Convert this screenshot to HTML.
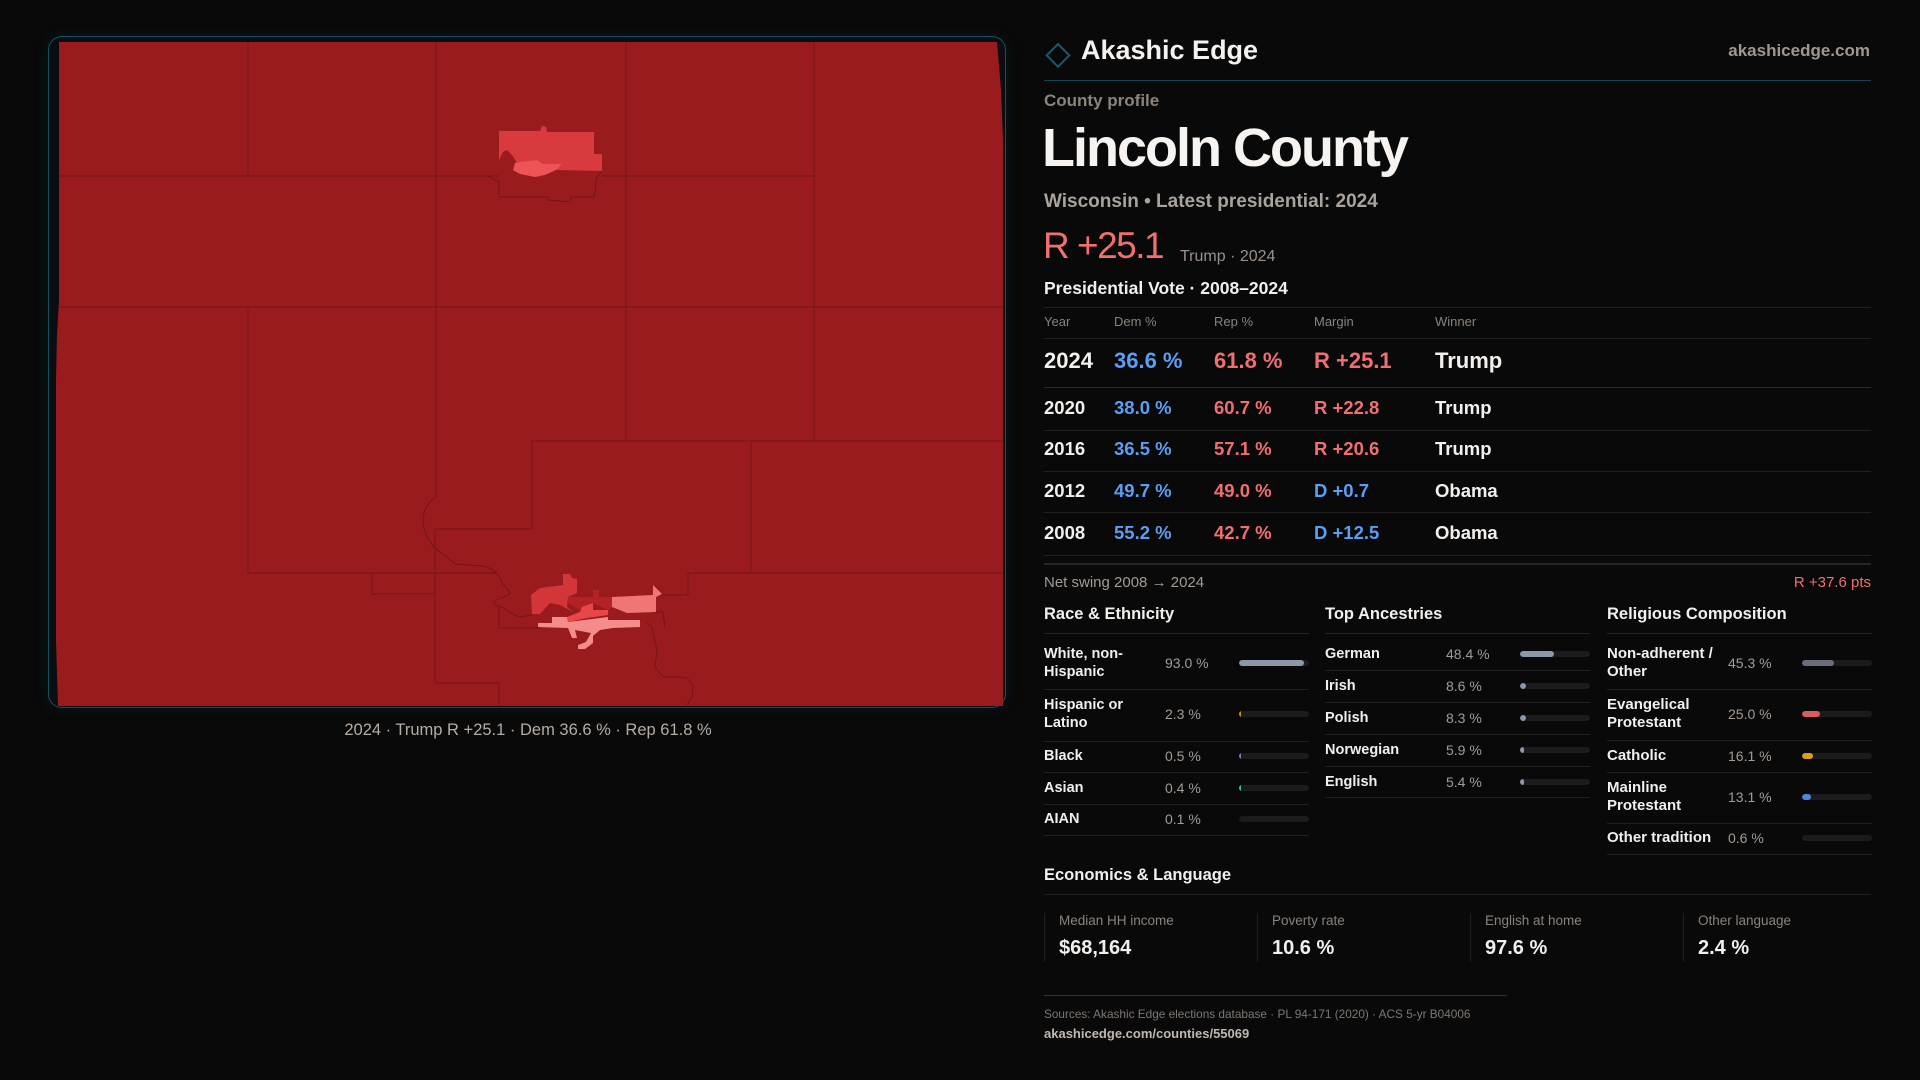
<!DOCTYPE html>
<html><head><meta charset="utf-8">
<style>
*{margin:0;padding:0;box-sizing:border-box}
html,body{width:1920px;height:1080px;overflow:hidden;background:#09090a}
body{position:relative;font-family:"Liberation Sans",sans-serif;color:#f2efec}
.a{position:absolute;white-space:nowrap}
.hl{position:absolute;height:1px;background:#202020}
.th{position:absolute;font-size:13px;line-height:16px;color:#8a827b}
.r{position:absolute;font-size:18.5px;line-height:24px;font-weight:bold}
.blue{color:#5b9ef2}.red{color:#f06f70}
.sh{position:absolute;font-size:16.5px;line-height:20px;font-weight:bold;color:#f2efec}
.lb{position:absolute;font-size:14.5px;line-height:18px;font-weight:bold;color:#f2efec;white-space:nowrap}
.vl{position:absolute;font-size:14px;line-height:18px;color:#a39b94;white-space:nowrap}
.tr{position:absolute;width:70px;height:6px;border-radius:3px;background:#1b1b1d;overflow:hidden}
.fl{position:absolute;left:0;top:0;height:6px;border-radius:3px}
.cl{position:absolute;font-size:13.5px;line-height:16px;color:#8a827b;white-space:nowrap}
.cv{position:absolute;font-size:20px;line-height:24px;font-weight:bold;color:#f2efec;white-space:nowrap}
.cb{position:absolute;width:1px;height:49px;top:913px;background:#1f1f1f}
</style></head><body>

<!-- Map panel -->
<div class="a" style="left:48px;top:36px;width:958px;height:672px;border:1px solid #17505c;border-radius:14px;background:#0a0e12;box-shadow:0 0 14px rgba(20,90,100,0.18)"></div>
<svg class="a" style="left:0;top:0" width="1030" height="760" viewBox="0 0 1030 760">
<path d="M59,42 L997,42 L1001,90 L1003,140 L1003,706 L58,706 L56,640 L56,380 L57,335 L59,300 Z" fill="#991b1e"/>
<g stroke="#731416" stroke-width="0.9" fill="none">
<path d="M248,42V176 M248,307V573 M436,42V497 M626,42V441 M814,42V441 M59,176H499 M602,176H814 M59,307H1003 M532,441H1003 M532,441V529 M435,529H532 M751,441V573 M248,573H497 M372,573V594 M372,594H435 M435,529V683 M435,683H499 M499,683V706 M499,606V628 M499,628H540 M656,595H688 M688,573V595 M688,573H1003"/>
<path d="M436,497 C430,500 423,510 423,520 C423,532 430,545 440,552 C446,556 450,560 455,564 L483,566 C492,568 498,573 501,580 C503,586 509,589 510,593 C508,597 500,597 495,601 C492,604 496,606 502,607 C507,610 512,615 520,617 L532,615"/>
<path d="M647,623 L652,627 L653,633 L657,650 L655,667 L663,677 L677,677 L687,678 L693,685 L692,697 L687,705"/>
<path d="M488,176 L499,182 L499,197 L548,197 L548,200 L570,202 L571,197 L594,197 L597,177 L602,171"/>
<path d="M653,612 L663,612 L665,628"/>
</g>
<!-- northern city -->
<path d="M499,131 L540,131 L542,126 L546,127 L547,132 L594,132 L594,154 L602,154 L602,171 L556,170 L562,164 L543,164 L537,160 L520,163 L517,163 L512,155 L507,150 L503,152 L499,160 Z" fill="#d93a3d"/>
<path d="M515,163 L520,162 L537,160 L543,164 L562,164 L556,170 L545,175 L535,177 L520,174 L513,170 Z" fill="#ee5457"/>
<!-- southern city -->
<path d="M531,595 L540,588 L563,585 L563,574 L570,574 L572,578 L577,579 L577,593 L568,597 L567,607 L573,612 L560,605 L550,603 L540,614 L532,614 Z" fill="#d23638"/>
<path d="M568,597 L593,597 L593,590 L599,590 L599,597 L617,597 L613,607 L608,610 L593,603 L580,610 L575,607 L568,603 Z" fill="#b52226"/>
<path d="M612,597 L653,595 L653,585 L662,594 L656,597 L656,612 L627,613 L612,607 Z" fill="#f07575"/>
<path d="M567,617 L580,612 L582,607 L593,603 L593,610 L608,610 L608,615 L587,618 L568,622 Z" fill="#e8474a"/>
<path d="M538,623 L552,623 L552,617 L567,617 L568,622 L608,617 L608,620 L640,620 L640,627 L613,628 L600,630 L593,636 L593,643 L585,649 L578,649 L578,645 L586,642 L591,633 L575,630 L577,638 L572,638 L568,628 L538,627 Z" fill="#f58c8c"/>
</svg>
<div class="a" style="left:228px;width:600px;top:720px;font-size:16.5px;line-height:21px;text-align:center;color:#b5aca4">2024 · Trump R +25.1 · Dem 36.6 % · Rep 61.8 %</div>

<!-- Header -->
<svg class="a" style="left:1040px;top:36px" width="36" height="36" viewBox="0 0 36 36"><rect x="11" y="11" width="16" height="16" transform="rotate(45 18 18)" fill="none" stroke="#1c5866" stroke-width="2"/></svg>
<div class="a" style="left:1081px;top:34px;font-size:27px;line-height:32px;font-weight:bold;color:#f4f1ee">Akashic Edge</div>
<div class="a" style="right:50px;top:40px;font-size:17px;line-height:22px;font-weight:bold;color:#a09890">akashicedge.com</div>
<div class="a" style="left:1044px;top:80px;width:827px;height:1px;background:#164651"></div>

<div class="a" style="left:1044px;top:91px;font-size:17px;line-height:20px;font-weight:bold;color:#8c837b">County profile</div>
<div class="a" style="left:1042px;top:116px;font-size:54px;line-height:64px;font-weight:bold;letter-spacing:-2px;color:#f6f3f0">Lincoln County</div>
<div class="a" style="left:1044px;top:190px;font-size:19px;line-height:23px;font-weight:bold;color:#aaa39c">Wisconsin • Latest presidential: 2024</div>
<div class="a" style="left:1043px;top:224px;font-size:37px;line-height:44px;letter-spacing:-1.5px;color:#f26f70">R +25.1</div>
<div class="a" style="left:1180px;top:247px;font-size:16px;line-height:20px;color:#9a918a">Trump · 2024</div>
<div class="a" style="left:1044px;top:277px;font-size:17.5px;line-height:22px;font-weight:bold;color:#f2efec">Presidential Vote · 2008–2024</div>

<!-- Table -->
<div class="hl" style="left:1044px;top:307px;width:827px;background:#1e1e1e"></div>
<div class="th" style="left:1044px;top:314px">Year</div>
<div class="th" style="left:1114px;top:314px">Dem %</div>
<div class="th" style="left:1214px;top:314px">Rep %</div>
<div class="th" style="left:1314px;top:314px">Margin</div>
<div class="th" style="left:1435px;top:314px">Winner</div>
<div class="hl" style="left:1044px;top:338px;width:827px"></div>

<div class="r" style="left:1044px;top:347px;font-size:22px;line-height:28px">2024</div>
<div class="r blue" style="left:1114px;top:347px;font-size:22px;line-height:28px">36.6 %</div>
<div class="r red" style="left:1214px;top:347px;font-size:22px;line-height:28px">61.8 %</div>
<div class="r red" style="left:1314px;top:347px;font-size:22px;line-height:28px">R +25.1</div>
<div class="r" style="left:1435px;top:347px;font-size:22px;line-height:28px">Trump</div>
<div class="hl" style="left:1044px;top:387px;width:827px;background:#2a2a2a"></div>

<div class="r" style="left:1044px;top:396px">2020</div>
<div class="r blue" style="left:1114px;top:396px">38.0 %</div>
<div class="r red" style="left:1214px;top:396px">60.7 %</div>
<div class="r red" style="left:1314px;top:396px">R +22.8</div>
<div class="r" style="left:1435px;top:396px">Trump</div>
<div class="hl" style="left:1044px;top:430px;width:827px"></div>

<div class="r" style="left:1044px;top:437px">2016</div>
<div class="r blue" style="left:1114px;top:437px">36.5 %</div>
<div class="r red" style="left:1214px;top:437px">57.1 %</div>
<div class="r red" style="left:1314px;top:437px">R +20.6</div>
<div class="r" style="left:1435px;top:437px">Trump</div>
<div class="hl" style="left:1044px;top:471px;width:827px"></div>

<div class="r" style="left:1044px;top:479px">2012</div>
<div class="r blue" style="left:1114px;top:479px">49.7 %</div>
<div class="r red" style="left:1214px;top:479px">49.0 %</div>
<div class="r blue" style="left:1314px;top:479px">D +0.7</div>
<div class="r" style="left:1435px;top:479px">Obama</div>
<div class="hl" style="left:1044px;top:512px;width:827px"></div>

<div class="r" style="left:1044px;top:521px">2008</div>
<div class="r blue" style="left:1114px;top:521px">55.2 %</div>
<div class="r red" style="left:1214px;top:521px">42.7 %</div>
<div class="r blue" style="left:1314px;top:521px">D +12.5</div>
<div class="r" style="left:1435px;top:521px">Obama</div>
<div class="hl" style="left:1044px;top:555px;width:827px"></div>
<div class="hl" style="left:1044px;top:563px;width:827px;height:2px;background:#262626"></div>

<div class="a" style="left:1044px;top:573px;font-size:15px;line-height:20px;color:#a39b94">Net swing 2008 → 2024</div>
<div class="a" style="right:49px;top:573px;font-size:15px;line-height:20px;color:#f06f70">R +37.6 pts</div>

<!-- Race & Ethnicity -->
<div class="sh" style="left:1044px;top:604px">Race &amp; Ethnicity</div>
<div class="hl" style="left:1044px;top:633px;width:265px;background:#242424"></div>

<div class="lb" style="left:1044px;top:645px">White, non-<br>Hispanic</div>
<div class="vl" style="left:1165px;top:654px">93.0 %</div>
<div class="tr" style="left:1239px;top:660px"><div class="fl" style="width:65px;background:#8c97aa"></div></div>
<div class="hl" style="left:1044px;top:689px;width:265px"></div>

<div class="lb" style="left:1044px;top:696px">Hispanic or<br>Latino</div>
<div class="vl" style="left:1165px;top:705px">2.3 %</div>
<div class="tr" style="left:1239px;top:711px"><div class="fl" style="width:2px;border-radius:0;background:#d98a16"></div></div>
<div class="hl" style="left:1044px;top:741px;width:265px"></div>

<div class="lb" style="left:1044px;top:747px">Black</div>
<div class="vl" style="left:1165px;top:747px">0.5 %</div>
<div class="tr" style="left:1239px;top:753px"><div class="fl" style="width:1.5px;border-radius:0;background:#8e6fd8"></div></div>
<div class="hl" style="left:1044px;top:772px;width:265px"></div>

<div class="lb" style="left:1044px;top:779px">Asian</div>
<div class="vl" style="left:1165px;top:779px">0.4 %</div>
<div class="tr" style="left:1239px;top:785px"><div class="fl" style="width:1.5px;border-radius:0;background:#2fc29a"></div></div>
<div class="hl" style="left:1044px;top:804px;width:265px"></div>

<div class="lb" style="left:1044px;top:810px">AIAN</div>
<div class="vl" style="left:1165px;top:810px">0.1 %</div>
<div class="tr" style="left:1239px;top:816px"></div>
<div class="hl" style="left:1044px;top:835px;width:265px"></div>

<!-- Top Ancestries -->
<div class="sh" style="left:1325px;top:604px">Top Ancestries</div>
<div class="hl" style="left:1325px;top:633px;width:265px;background:#242424"></div>

<div class="lb" style="left:1325px;top:645px">German</div>
<div class="vl" style="left:1446px;top:645px">48.4 %</div>
<div class="tr" style="left:1520px;top:651px"><div class="fl" style="width:34px;background:#8c97aa"></div></div>
<div class="hl" style="left:1325px;top:670px;width:265px"></div>

<div class="lb" style="left:1325px;top:677px">Irish</div>
<div class="vl" style="left:1446px;top:677px">8.6 %</div>
<div class="tr" style="left:1520px;top:683px"><div class="fl" style="width:6px;background:#8c97aa"></div></div>
<div class="hl" style="left:1325px;top:702px;width:265px"></div>

<div class="lb" style="left:1325px;top:709px">Polish</div>
<div class="vl" style="left:1446px;top:709px">8.3 %</div>
<div class="tr" style="left:1520px;top:715px"><div class="fl" style="width:5.8px;background:#8c97aa"></div></div>
<div class="hl" style="left:1325px;top:734px;width:265px"></div>

<div class="lb" style="left:1325px;top:741px">Norwegian</div>
<div class="vl" style="left:1446px;top:741px">5.9 %</div>
<div class="tr" style="left:1520px;top:747px"><div class="fl" style="width:4px;background:#8c97aa"></div></div>
<div class="hl" style="left:1325px;top:766px;width:265px"></div>

<div class="lb" style="left:1325px;top:773px">English</div>
<div class="vl" style="left:1446px;top:773px">5.4 %</div>
<div class="tr" style="left:1520px;top:779px"><div class="fl" style="width:3.8px;background:#8c97aa"></div></div>
<div class="hl" style="left:1325px;top:797px;width:265px"></div>

<!-- Religious Composition -->
<div class="sh" style="left:1607px;top:604px">Religious Composition</div>
<div class="hl" style="left:1607px;top:633px;width:265px;background:#242424"></div>

<div class="lb" style="left:1607px;top:645px;font-size:15px">Non-adherent /<br>Other</div>
<div class="vl" style="left:1728px;top:654px">45.3 %</div>
<div class="tr" style="left:1802px;top:660px"><div class="fl" style="width:32px;background:#6b6e7a"></div></div>
<div class="hl" style="left:1607px;top:689px;width:265px"></div>

<div class="lb" style="left:1607px;top:696px;font-size:15px">Evangelical<br>Protestant</div>
<div class="vl" style="left:1728px;top:705px">25.0 %</div>
<div class="tr" style="left:1802px;top:711px"><div class="fl" style="width:18px;background:#d95c60"></div></div>
<div class="hl" style="left:1607px;top:740px;width:265px"></div>

<div class="lb" style="left:1607px;top:747px;font-size:15px">Catholic</div>
<div class="vl" style="left:1728px;top:747px">16.1 %</div>
<div class="tr" style="left:1802px;top:753px"><div class="fl" style="width:11px;background:#d9a020"></div></div>
<div class="hl" style="left:1607px;top:772px;width:265px"></div>

<div class="lb" style="left:1607px;top:779px;font-size:15px">Mainline<br>Protestant</div>
<div class="vl" style="left:1728px;top:788px">13.1 %</div>
<div class="tr" style="left:1802px;top:794px"><div class="fl" style="width:9px;background:#4a88d8"></div></div>
<div class="hl" style="left:1607px;top:823px;width:265px"></div>

<div class="lb" style="left:1607px;top:829px;font-size:15px">Other tradition</div>
<div class="vl" style="left:1728px;top:829px">0.6 %</div>
<div class="tr" style="left:1802px;top:835px"></div>
<div class="hl" style="left:1607px;top:854px;width:265px"></div>

<!-- Economics -->
<div class="sh" style="left:1044px;top:865px">Economics &amp; Language</div>
<div class="hl" style="left:1044px;top:894px;width:827px;background:#1e1e1e"></div>

<div class="cb" style="left:1044px"></div>
<div class="cl" style="left:1059px;top:913px">Median HH income</div>
<div class="cv" style="left:1059px;top:936px">$68,164</div>
<div class="cb" style="left:1257px"></div>
<div class="cl" style="left:1272px;top:913px">Poverty rate</div>
<div class="cv" style="left:1272px;top:936px">10.6 %</div>
<div class="cb" style="left:1470px"></div>
<div class="cl" style="left:1485px;top:913px">English at home</div>
<div class="cv" style="left:1485px;top:936px">97.6 %</div>
<div class="cb" style="left:1683px"></div>
<div class="cl" style="left:1698px;top:913px">Other language</div>
<div class="cv" style="left:1698px;top:936px">2.4 %</div>

<!-- Footer -->
<div class="a" style="left:1044px;top:995px;width:463px;height:1px;background:#173d45"></div>
<div class="a" style="left:1044px;top:1006px;font-size:11.8px;line-height:16px;color:#7f7770">Sources: Akashic Edge elections database · PL 94-171 (2020) · ACS 5-yr B04006</div>
<div class="a" style="left:1044px;top:1025px;font-size:13px;line-height:17px;font-weight:bold;color:#c0b8b0">akashicedge.com/counties/55069</div>

</body></html>
